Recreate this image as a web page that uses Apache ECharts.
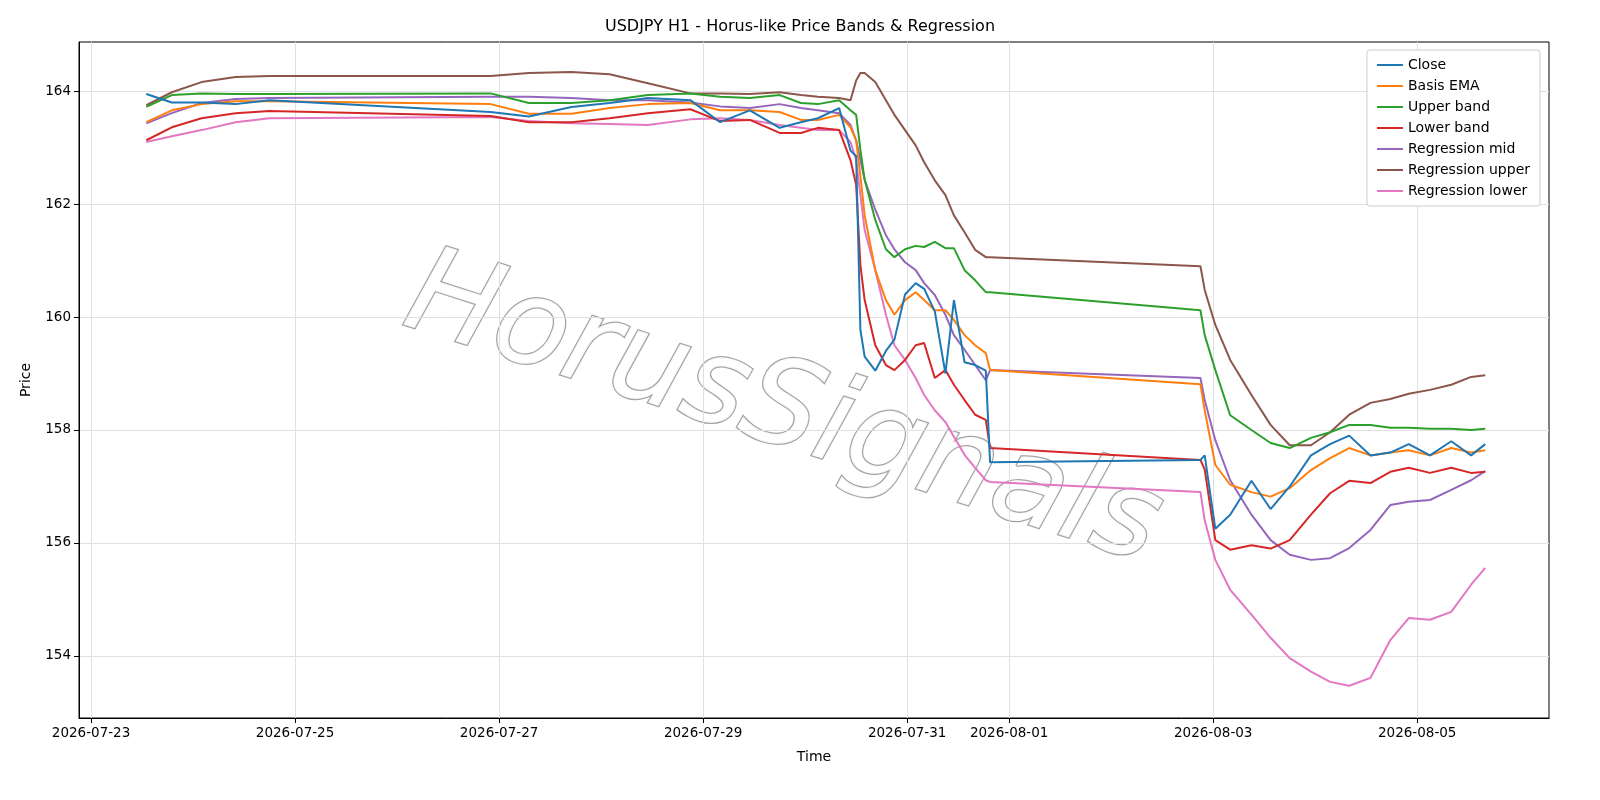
<!DOCTYPE html>
<html><head><meta charset="utf-8">
<script src="https://cdn.jsdelivr.net/npm/echarts@6/dist/echarts.min.js"></script>
<style>html,body{margin:0;padding:0;background:#fff}#c{width:1600px;height:800px}</style>
</head><body><div id="c"></div>
<script>
const times = ["2026-07-23T13:00","2026-07-23T19:00","2026-07-24T02:00","2026-07-24T10:00","2026-07-24T18:00",
"2026-07-26T22:00","2026-07-27T07:00","2026-07-27T17:00","2026-07-28T02:00","2026-07-28T11:00","2026-07-28T21:00",
"2026-07-29T04:00","2026-07-29T11:00","2026-07-29T18:00","2026-07-29T23:00","2026-07-30T03:00","2026-07-30T08:00",
"2026-07-30T10:40","2026-07-30T12:00","2026-07-30T13:00","2026-07-30T14:00","2026-07-30T16:30","2026-07-30T19:00",
"2026-07-30T21:00","2026-07-30T23:30","2026-07-31T02:00","2026-07-31T04:00","2026-07-31T06:30","2026-07-31T09:00",
"2026-07-31T11:00","2026-07-31T13:30","2026-07-31T16:00","2026-07-31T18:30","2026-07-31T19:30",
"2026-08-02T21:00","2026-08-02T22:00","2026-08-03T00:30","2026-08-03T04:00","2026-08-03T09:00","2026-08-03T13:30",
"2026-08-03T18:00","2026-08-03T23:00","2026-08-04T03:30","2026-08-04T08:00","2026-08-04T13:00","2026-08-04T17:40",
"2026-08-04T22:00","2026-08-05T03:00","2026-08-05T08:00","2026-08-05T12:40","2026-08-05T16:00"];
const close = [163.95,163.8,163.8,163.77,163.84,163.63,163.55,163.72,163.79,163.88,163.84,163.45,163.66,163.35,163.45,163.52,163.7,
162.95,162.85,159.77,159.3,159.05,159.4,159.6,160.4,160.6,160.5,160.1,159.0,160.3,159.2,159.15,159.05,157.43,
157.47,157.55,156.25,156.5,157.1,156.6,157.0,157.55,157.75,157.9,157.55,157.6,157.75,157.55,157.8,157.55,157.75];
const basisEma = [163.45,163.66,163.77,163.82,163.82,163.77,163.6,163.6,163.7,163.77,163.79,163.66,163.66,163.63,163.49,163.49,163.58,
163.36,163.13,162.5,161.8,160.83,160.3,160.04,160.3,160.44,160.3,160.12,160.12,159.95,159.68,159.5,159.36,159.06,
158.81,158.35,157.38,157.03,156.9,156.82,156.97,157.29,157.5,157.68,157.55,157.6,157.64,157.55,157.68,157.6,157.64];
const upperBand = [163.72,163.93,163.96,163.95,163.95,163.96,163.79,163.79,163.84,163.93,163.96,163.9,163.88,163.93,163.79,163.77,163.84,
163.66,163.58,162.96,162.43,161.72,161.2,161.06,161.2,161.26,161.24,161.33,161.22,161.22,160.83,160.65,160.44,160.44,
160.12,159.68,159.06,158.26,158.0,157.77,157.68,157.86,157.96,158.09,158.09,158.04,158.04,158.02,158.02,158.0,158.02];
const lowerBand = [163.13,163.36,163.52,163.61,163.65,163.56,163.45,163.45,163.52,163.61,163.68,163.47,163.49,163.26,163.26,163.35,163.31,
162.78,162.34,160.92,160.3,159.5,159.15,159.06,159.24,159.5,159.54,158.92,159.06,158.8,158.53,158.27,158.18,157.68,
157.47,157.3,156.05,155.88,155.96,155.9,156.05,156.5,156.88,157.1,157.06,157.26,157.33,157.24,157.33,157.24,157.26];
const regMid = [163.43,163.61,163.79,163.86,163.88,163.9,163.9,163.88,163.84,163.84,163.8,163.73,163.7,163.77,163.7,163.66,163.61,
163.4,163.13,162.78,162.43,161.9,161.45,161.2,160.97,160.83,160.6,160.39,160.04,159.68,159.42,159.15,158.88,159.06,
158.92,158.53,157.82,157.11,156.5,156.05,155.79,155.7,155.73,155.91,156.23,156.67,156.73,156.76,156.94,157.11,157.27];
const regUpper = [163.75,163.98,164.16,164.25,164.27,164.27,164.32,164.34,164.3,164.14,163.96,163.96,163.95,163.98,163.93,163.9,163.88,
163.84,164.19,164.32,164.32,164.16,163.84,163.58,163.31,163.04,162.74,162.42,162.16,161.8,161.5,161.19,161.06,161.06,
160.9,160.48,159.86,159.24,158.62,158.09,157.73,157.73,157.96,158.27,158.48,158.55,158.64,158.71,158.8,158.94,158.97];
const regLower = [163.1,163.2,163.31,163.45,163.52,163.54,163.47,163.43,163.42,163.4,163.5,163.52,163.49,163.4,163.35,163.31,163.31,
163.1,162.78,162.16,161.54,160.83,160.04,159.5,159.24,158.92,158.62,158.35,158.14,157.88,157.56,157.33,157.11,157.08,
156.9,156.4,155.7,155.17,154.73,154.32,153.96,153.72,153.54,153.47,153.61,154.28,154.67,154.64,154.78,155.26,155.56];
const xTicks = ["2026-07-23","2026-07-25","2026-07-27","2026-07-29","2026-07-31","2026-08-01","2026-08-03","2026-08-05"];
const yTicks = [154,156,158,160,162,164];

const ms = s => Date.parse(s + (s.length===10 ? "T00:00Z" : "Z"));
const names = ["Close","Basis EMA","Upper band","Lower band","Regression mid","Regression upper","Regression lower"];
const colors = ["#1f77b4","#ff7f0e","#2ca02c","#d62728","#9467bd","#8c564b","#e377c2"];
const arrs = [close,basisEma,upperBand,lowerBand,regMid,regUpper,regLower];
const fmt = v => { const d=new Date(v); return d.getUTCFullYear()+"-"+String(d.getUTCMonth()+1).padStart(2,"0")+"-"+String(d.getUTCDate()).padStart(2,"0"); };
const xMin = ms("2026-07-22T21:10"), xMax = ms("2026-08-06T07:00");
const font = "DejaVu Sans";
const chart = echarts.init(document.getElementById('c'));
chart.setOption({
  animation:false,
  title:{text:"USDJPY H1 - Horus-like Price Bands & Regression",left:"center",top:14,textStyle:{fontFamily:font,fontSize:16,fontWeight:"normal",color:"#000"}},
  legend:{orient:"vertical",right:60,top:50,itemWidth:26,itemHeight:2,itemGap:7,icon:"rect",
    backgroundColor:"#fff",borderColor:"#ccc",borderWidth:1,borderRadius:3,padding:[8,10],
    textStyle:{fontFamily:font,fontSize:14,color:"#000"},data:names},
  grid:{left:79,right:51,top:42,bottom:82,show:true,borderColor:"#000",borderWidth:1},
  graphic:[{type:"text",left:390,top:235,rotation:-0.31,z:0,
    style:{text:"HorusSignals",font:"italic 120px 'DejaVu Sans'",fill:"rgba(255,255,255,0.95)",stroke:"rgba(140,140,140,0.8)",lineWidth:2.5,
    shadowColor:"rgba(0,0,0,0.35)",shadowOffsetX:5,shadowOffsetY:5,shadowBlur:2}}],
  xAxis:{type:"value",min:xMin,max:xMax,name:"Time",nameLocation:"middle",nameGap:32,
    nameTextStyle:{fontFamily:font,fontSize:14,color:"#000"},
    axisLine:{lineStyle:{color:"#000"}},axisTick:{customValues:xTicks.map(ms),lineStyle:{color:"#000"}},
    axisLabel:{customValues:xTicks.map(ms),formatter:fmt,fontFamily:font,fontSize:13.5,color:"#000"},
    splitLine:{show:true,lineStyle:{color:"#e0e0e0"}}},
  yAxis:{type:"value",min:152.9,max:164.87,name:"Price",nameLocation:"middle",nameGap:46,
    nameTextStyle:{fontFamily:font,fontSize:14,color:"#000"},
    axisLine:{show:true,lineStyle:{color:"#000"}},axisTick:{show:true,customValues:yTicks,lineStyle:{color:"#000"}},
    axisLabel:{customValues:yTicks,fontFamily:font,fontSize:13.5,color:"#000"},
    splitLine:{show:true,lineStyle:{color:"#e0e0e0"}}},
  series:arrs.map((a,i)=>({name:names[i],type:"line",showSymbol:false,z:10-i,color:colors[i],
    lineStyle:{width:2,color:colors[i]},data:a.map((v,j)=>[ms(times[j]),v])}))
});
</script></body></html>
